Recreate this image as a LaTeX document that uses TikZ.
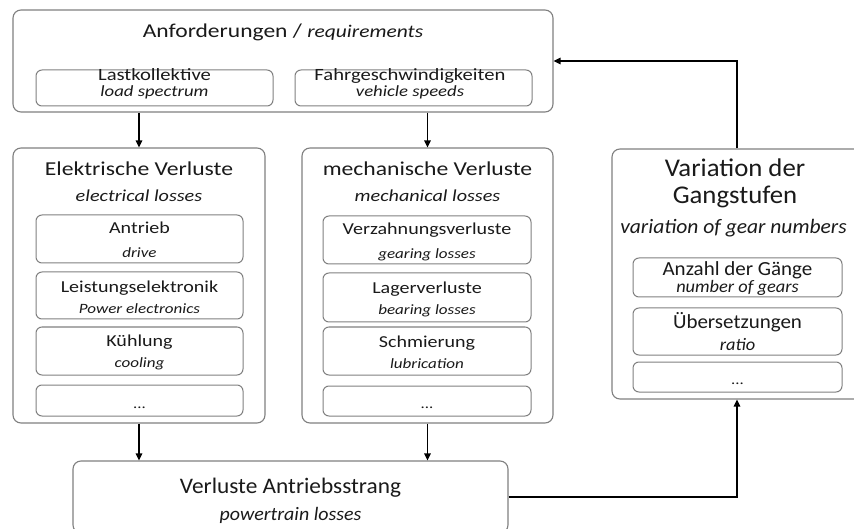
\documentclass[tikz,border=0pt]{standalone}
\usepackage{fontspec}
\setmainfont{Carlito}[FakeStretch=1.2]
\newfontfamily\gfont{Carlito}[FakeStretch=1.05]
\usetikzlibrary{arrows.meta}
\definecolor{boxgray}{HTML}{808080}
\definecolor{txt}{HTML}{1A1A1A}
\tikzset{
  outerbox/.style={draw=boxgray, line width=1.1pt, rounded corners=8pt, fill=white},
  innerbox/.style={draw=boxgray, line width=1pt, rounded corners=6pt, fill=white},
  lbl/.style={text=txt, inner sep=0pt, anchor=base},
  topttl/.style={lbl, font=\fontsize{19.6}{22}\selectfont},
  topin/.style={lbl, font=\fontsize{17.2}{20}\selectfont},
  topit/.style={lbl, font=\fontsize{15.6}{18}\selectfont\itshape},
  ttlA/.style={lbl, font=\fontsize{19.7}{22}\selectfont},
  subA/.style={lbl, font=\fontsize{16.8}{20}\selectfont\itshape},
  inA/.style={lbl, font=\fontsize{16.7}{20}\selectfont},
  itA/.style={lbl, font=\fontsize{14.2}{16}\selectfont\itshape},
  dots/.style={lbl, font=\fontsize{14}{16}\selectfont},
  ttlG/.style={lbl, font=\gfont\fontsize{25.5}{28}\selectfont},
  subG/.style={lbl, font=\gfont\fontsize{20.5}{24}\selectfont\itshape},
  inG/.style={lbl, font=\gfont\fontsize{20}{24}\selectfont},
  itG/.style={lbl, font=\gfont\fontsize{17.5}{20}\selectfont\itshape},
  ttlB/.style={lbl, font=\gfont\fontsize{22.2}{26}\selectfont},
  subB/.style={lbl, font=\gfont\fontsize{19}{22}\selectfont\itshape},
  flow/.style={line width=1.4pt, -{Triangle[length=7pt,width=6.5pt]}, black},
}
\begin{document}
\begin{tikzpicture}[x=1pt,y=-1pt]
\clip (0,0) rectangle (854,529);
\fill[white] (0,0) rectangle (854,529);

% top box
\node[outerbox, minimum width=540pt, minimum height=102pt] (top) at (283,61) {};
\node[topttl] (toptitle) at (283,37.5) {Anforderungen / {\fontsize{17.9}{20}\selectfont\itshape requirements}};
\node[innerbox, minimum width=237pt, minimum height=36pt] (last) at (154.5,88) {};
\node[topin] (lastA) at (154.5,81) {Lastkollektive};
\node[topit] (lastB) at (154.5,97) {load spectrum};
\node[innerbox, minimum width=237pt, minimum height=36pt] (fahr) at (413.5,88) {};
\node[topin] (fahrA) at (410,81) {Fahrgeschwindigkeiten};
\node[topit] (fahrB) at (410,97) {vehicle speeds};

% electrical
\node[outerbox, minimum width=252pt, minimum height=275pt] (elec) at (139,285.5) {};
\node[ttlA] (electitle) at (139,175.5) {Elektrische Verluste};
\node[subA] (elecsub) at (139,202) {electrical losses};
\node[innerbox, minimum width=207pt, minimum height=48pt] (antrieb) at (139.5,239) {};
\node[inA] (antriebA) at (139.5,234) {Antrieb};
\node[itA] (antriebB) at (139.5,258) {drive};
\node[innerbox, minimum width=207pt, minimum height=47pt] (leist) at (139.5,295.5) {};
\node[inA] (leistA) at (139.5,292.7) {Leistungselektronik};
\node[itA] (leistB) at (139.5,313.3) {Power electronics};
\node[innerbox, minimum width=207pt, minimum height=48pt] (kuehl) at (139.5,351) {};
\node[inA] (kuehlA) at (139.5,346) {Kühlung};
\node[itA] (kuehlB) at (139.5,367.5) {cooling};
\node[innerbox, minimum width=207pt, minimum height=31pt] (edots) at (139.5,400.5) {};
\node[dots] (edotsA) at (139.5,408) {...};

% mechanical
\node[outerbox, minimum width=251pt, minimum height=275pt] (mech) at (427.5,285.5) {};
\node[ttlA] (mechtitle) at (427.5,175.5) {mechanische Verluste};
\node[subA] (mechsub) at (427.5,202) {mechanical losses};
\node[innerbox, minimum width=208pt, minimum height=48pt] (verz) at (427,240) {};
\node[inA] (verzA) at (427,235) {Verzahnungsverluste};
\node[itA] (verzB) at (427,258.3) {gearing losses};
\node[innerbox, minimum width=208pt, minimum height=49pt] (lager) at (427,297.5) {};
\node[inA] (lagerA) at (427,294) {Lagerverluste};
\node[itA] (lagerB) at (427,315) {bearing losses};
\node[innerbox, minimum width=208pt, minimum height=48pt] (schm) at (427,351) {};
\node[inA] (schmA) at (427,347) {Schmierung};
\node[itA] (schmB) at (427,368.3) {lubrication};
\node[innerbox, minimum width=208pt, minimum height=30pt] (mdots) at (427,401) {};
\node[dots] (mdotsA) at (427,408) {...};

% gear variation
\node[outerbox, minimum width=250pt, minimum height=250pt] (gear) at (737,274) {};
\node[ttlG] (gearA) at (735,176.7) {Variation der};
\node[ttlG] (gearB) at (735,203.3) {Gangstufen};
\node[subG] (gearsub) at (733.5,234) {variation of gear numbers};
\node[innerbox, minimum width=209pt, minimum height=39pt] (anzahl) at (737.5,277.5) {};
\node[inG] (anzahlA) at (737.5,276) {Anzahl der Gänge};
\node[itG] (anzahlB) at (737.5,293) {number of gears};
\node[innerbox, minimum width=209pt, minimum height=47pt] (ueber) at (737.5,331.5) {};
\node[inG] (ueberA) at (737.5,328.3) {Übersetzungen};
\node[itG] (ueberB) at (737.5,350) {ratio};
\node[innerbox, minimum width=209pt, minimum height=30pt] (gdots) at (737.5,377) {};
\node[dots] (gdotsA) at (737.5,384.3) {...};

% powertrain losses
\node[outerbox, minimum width=435pt, minimum height=72pt] (verl) at (290.5,497) {};
\node[ttlB] (verltitle) at (290.5,493.3) {Verluste Antriebsstrang};
\node[subB] (verlsub) at (290.5,520) {powertrain losses};

% connectors
\draw[flow] (elec.north |- top.south) -- (elec.north);
\draw[flow] (mech.north |- top.south) -- (mech.north);
\draw[flow] (elec.south) -- (elec.south |- verl.north);
\draw[flow] (mech.south) -- (mech.south |- verl.north);
\draw[flow] (verl.east) -| (gear.south);
\draw[flow] (gear.north) |- (top.east);
\end{tikzpicture}
\end{document}
